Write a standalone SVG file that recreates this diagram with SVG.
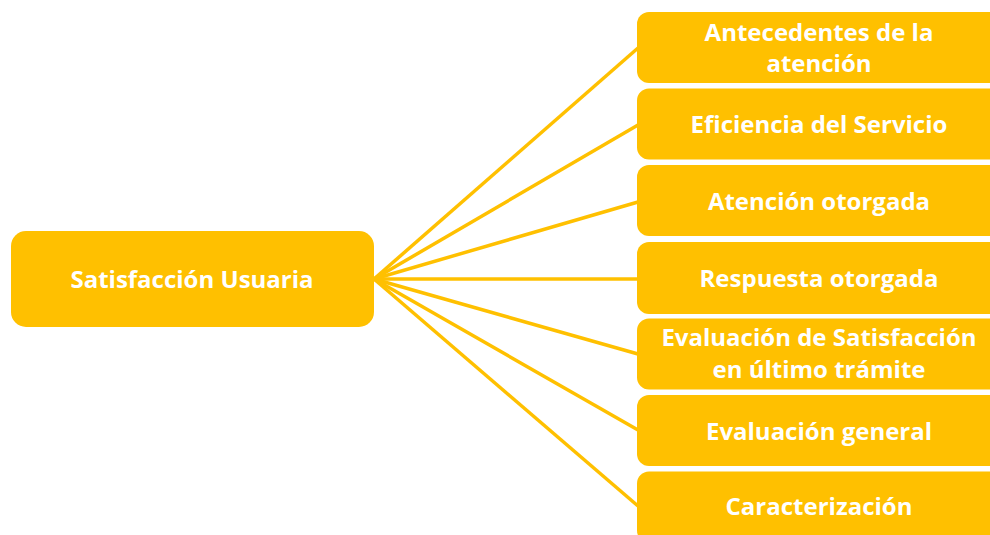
<svg xmlns="http://www.w3.org/2000/svg" width="990" height="535" viewBox="0 0 990 535">
<style>
.box{fill:#FFC000;}
.t{fill:#fff;font-family:"Open Sans","Liberation Sans",sans-serif;font-weight:bold;font-size:24px;text-anchor:middle;}
.c{stroke:#FFC000;stroke-width:3.5;fill:none;}
</style>
<rect width="990" height="535" fill="#fff"/>
<g id="connectors">
<line class="c" x1="374" y1="279" x2="638" y2="48"/>
<line class="c" x1="374" y1="279" x2="638" y2="125"/>
<line class="c" x1="374" y1="279" x2="638" y2="202"/>
<line class="c" x1="374" y1="279" x2="638" y2="279"/>
<line class="c" x1="374" y1="279" x2="638" y2="354"/>
<line class="c" x1="374" y1="279" x2="638" y2="430"/>
<line class="c" x1="374" y1="279" x2="638" y2="506"/>
</g>
<g id="root">
<rect class="box" x="11" y="231" width="363" height="96" rx="15"/>
<text class="t" x="192" y="288">Satisfacción Usuaria</text>
</g>
<g id="n1">
<rect class="box" x="637" y="12" width="365" height="71" rx="12"/>
<text class="t" x="819" y="41">Antecedentes de la</text>
<text class="t" x="819" y="72">atención</text>
</g>
<g id="n2">
<rect class="box" x="637" y="88.5" width="365" height="71" rx="12"/>
<text class="t" x="819" y="133">Eficiencia del Servicio</text>
</g>
<g id="n3">
<rect class="box" x="637" y="165" width="365" height="71" rx="12"/>
<text class="t" x="819" y="210">Atención otorgada</text>
</g>
<g id="n4">
<rect class="box" x="637" y="242" width="365" height="72" rx="12"/>
<text class="t" x="819" y="287">Respuesta otorgada</text>
</g>
<g id="n5">
<rect class="box" x="637" y="318.5" width="365" height="71" rx="12"/>
<text class="t" x="819" y="346">Evaluación de Satisfacción</text>
<text class="t" x="819" y="378">en último trámite</text>
</g>
<g id="n6">
<rect class="box" x="637" y="395" width="365" height="71" rx="12"/>
<text class="t" x="819" y="440">Evaluación general</text>
</g>
<g id="n7">
<rect class="box" x="637" y="471.5" width="365" height="71" rx="12"/>
<text class="t" x="819" y="515">Caracterización</text>
</g>
</svg>
